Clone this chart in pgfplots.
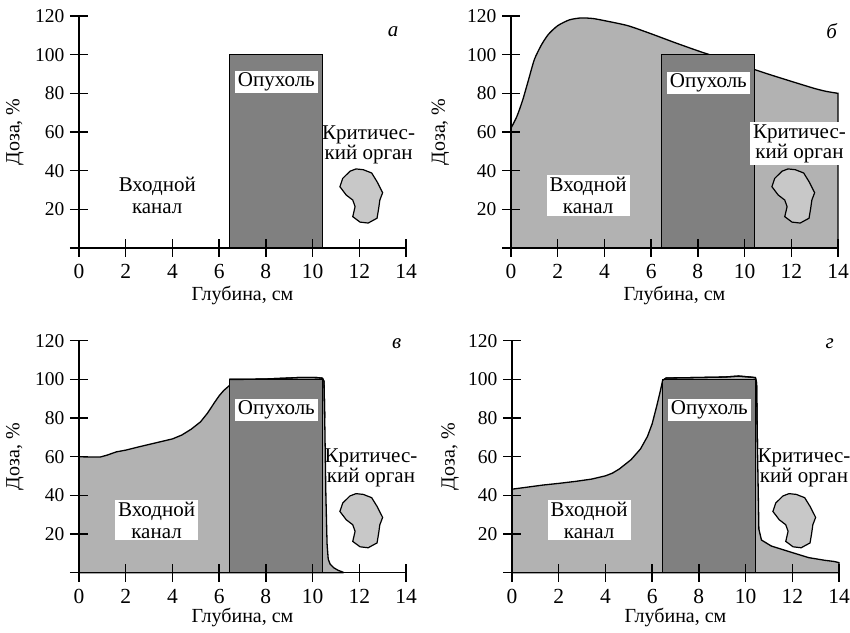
\documentclass[border=0pt]{standalone}
\usepackage{fontspec}
\setmainfont{Liberation Serif}
\usepackage{pgfplots}
\pgfplotsset{compat=1.18}
\definecolor{tumor}{HTML}{808080}
\definecolor{dose}{HTML}{B2B2B2}
\definecolor{organ}{HTML}{C8C8C8}
\newcommand{\blob}{%
\addplot[fill=organ, draw=black, line width=1.2pt] coordinates {
(11.86,40.9)(12.17,40.5)(12.53,38.8)(12.76,34.3)(13.0,28.6)(12.88,24.8)(12.83,20.5)(12.76,15.4)(12.38,12.9)(12.03,13.4)(11.72,16.2)(11.82,21.4)(11.72,24.8)(11.44,27.4)(11.17,31.7)(11.29,36.0)(11.6,39.7)(11.86,40.9)} -- cycle;}
\newcommand{\tumorbox}{%
\addplot[fill=tumor, draw=black, line width=1.4pt] coordinates {(6.45,0)(6.45,100)(10.42,100)(10.42,0)} -- cycle;}
\pgfplotsset{
 panel/.style={
  scale only axis, width=327pt, height=232pt,
  xmin=0, xmax=14, ymin=0, ymax=120,
  axis lines*=left, axis line style={line width=1.5pt},
  xtick={0,2,...,14}, ytick={0,20,...,120}, yticklabels={,20,40,60,80,100,120},
  tick align=center, major tick length=18pt, tick style={line width=1.4pt, black},
  clip=false, axis on top,
  /pgf/number format/assume math mode=true,
  xticklabel style={font=\fontsize{21.5}{23}\selectfont, anchor=north, yshift=-4pt},
  yticklabel style={font=\fontsize{19.5}{21}\selectfont, anchor=east, xshift=-2pt},
  xlabel={Глубина, см}, ylabel={Доза, \%},
  label style={font=\fontsize{20}{22}\selectfont},
 },
}
\tikzset{
 ann/.style={font=\fontsize{21}{22}\selectfont, fill=white, align=center, inner xsep=3pt, inner ysep=2pt},
 plab/.style={font=\fontsize{21}{22}\selectfont\itshape},
}
\begin{document}
\begin{tikzpicture}
\useasboundingbox (0,0) rectangle (850pt,632pt);
% ---- panel a
\begin{axis}[panel, at={(79pt,384pt)}, anchor=south west,
 ylabel style={at={(axis description cs:-0.196,0.5)}, anchor=center},
 xlabel style={at={(axis description cs:0.5,-0.203)}, anchor=center}]
\tumorbox
\blob
\node[ann] at (axis cs:8.45,85.8) {Опухоль};
\node[ann, fill=none] at (axis cs:3.35,27.4) {Входной\\[0pt]канал};
\node[ann, fill=none] at (axis cs:12.4,53.5) {Критичес-\\[-2pt]кий орган};
\node[plab] at (axis cs:13.45,111.7) {а};
\end{axis}
% ---- panel b
\begin{axis}[panel, at={(511pt,384pt)}, anchor=south west,
 ylabel style={at={(axis description cs:-0.216,0.5)}, anchor=center},
 xlabel style={at={(axis description cs:0.5,-0.203)}, anchor=center}]
\addplot[fill=dose, draw=black, line width=1.3pt, smooth, tension=0.4] coordinates {
(0,62)(0.25,68)(0.5,76.5)(0.75,87)(1.0,97.5)(1.3,105)(1.6,110.5)(2.0,115)(2.5,118)(3.0,119)(3.5,118.7)(4.0,117.6)(5.0,115)(6.0,110.8)(7.0,106.3)(8.0,102)(9.0,98)(10.0,94)(11.0,90)(12.0,86.2)(13.0,82.5)(13.5,81)(14,80)} \closedcycle;
\tumorbox
\blob
\node[ann] at (axis cs:8.45,85.2) {Опухоль};
\node[ann] at (axis cs:3.3,27.2) {Входной\\[0pt]канал};
\node[ann] at (axis cs:12.35,54) {Критичес-\\[-2pt]кий орган};
\node[plab] at (axis cs:13.73,112) {б};
\end{axis}
% ---- panel c
\begin{axis}[panel, at={(79pt,59.3pt)}, anchor=south west,
 ylabel style={at={(axis description cs:-0.196,0.5)}, anchor=center},
 xlabel style={at={(axis description cs:0.5,-0.195)}, anchor=center}]
\addplot[fill=dose, draw=black, line width=1.3pt] coordinates {
(0,60)(0.5,59.8)(0.9,59.8)(1.2,60.8)(1.6,62.5)(2.0,63.4)(2.6,65.2)(3.3,67.2)(4.0,69.2)(4.4,71.2)(4.8,74.2)(5.2,78)(5.5,82.5)(5.8,88)(6.0,91.5)(6.2,94.3)(6.45,96.9)(6.45,100)(7,100)(8,100.2)(9,100.7)(9.5,101)(10.2,100.9)(10.42,100.6)(10.49,99)(10.52,80)(10.57,40)(10.62,15)(10.67,7)(10.75,4.5)(10.9,2.6)(11.1,1.2)(11.3,0.3)} \closedcycle;
\tumorbox
\addplot[draw=black, line width=1.3pt] coordinates {(6.45,100)(7,100)(8,100.2)(9,100.7)(9.5,101)(10.2,100.9)(10.42,100.6)(10.49,99)(10.52,80)};
\blob
\node[ann] at (axis cs:8.45,84.3) {Опухоль};
\node[ann] at (axis cs:3.32,27.3) {Входной\\[0pt]канал};
\node[ann, fill=none] at (axis cs:12.5,54.3) {Критичес-\\[-2pt]кий орган};
\node[plab] at (axis cs:13.6,118.3) {в};
\end{axis}
% ---- panel d
\begin{axis}[panel, at={(512pt,59.3pt)}, anchor=south west,
 ylabel style={at={(axis description cs:-0.189,0.5)}, anchor=center},
 xlabel style={at={(axis description cs:0.5,-0.195)}, anchor=center}]
\addplot[fill=dose, draw=black, line width=1.3pt] coordinates {
(0,43.2)(0.5,44)(1.3,45.3)(2.0,46.2)(2.7,47.2)(3.4,48.4)(4.0,50.1)(4.3,51.5)(4.6,53.7)(5.1,58.5)(5.5,64)(5.8,70.5)(6.0,77)(6.2,86.4)(6.35,94)(6.45,99.5)(6.6,100.7)(7.7,100.9)(9.1,101.2)(9.7,101.7)(10.2,101.2)(10.42,100.9)(10.47,98.4)(10.51,64)(10.57,22.5)(10.68,16.9)(11.1,13.8)(12,10.4)(12.7,7.8)(13.4,6.4)(13.8,5.8)(14,5.2)} \closedcycle;
\tumorbox
\addplot[draw=black, line width=1.3pt] coordinates {(6.45,99.5)(6.6,100.7)(7.7,100.9)(9.1,101.2)(9.7,101.7)(10.2,101.2)(10.42,100.9)(10.47,98.4)(10.51,64)};
\blob
\node[ann] at (axis cs:8.45,84.3) {Опухоль};
\node[ann] at (axis cs:3.3,27.3) {Входной\\[0pt]канал};
\node[ann, fill=none] at (axis cs:12.5,54.3) {Критичес-\\[-2pt]кий орган};
\node[plab] at (axis cs:13.6,118.3) {г};
\end{axis}
\end{tikzpicture}
\end{document}
